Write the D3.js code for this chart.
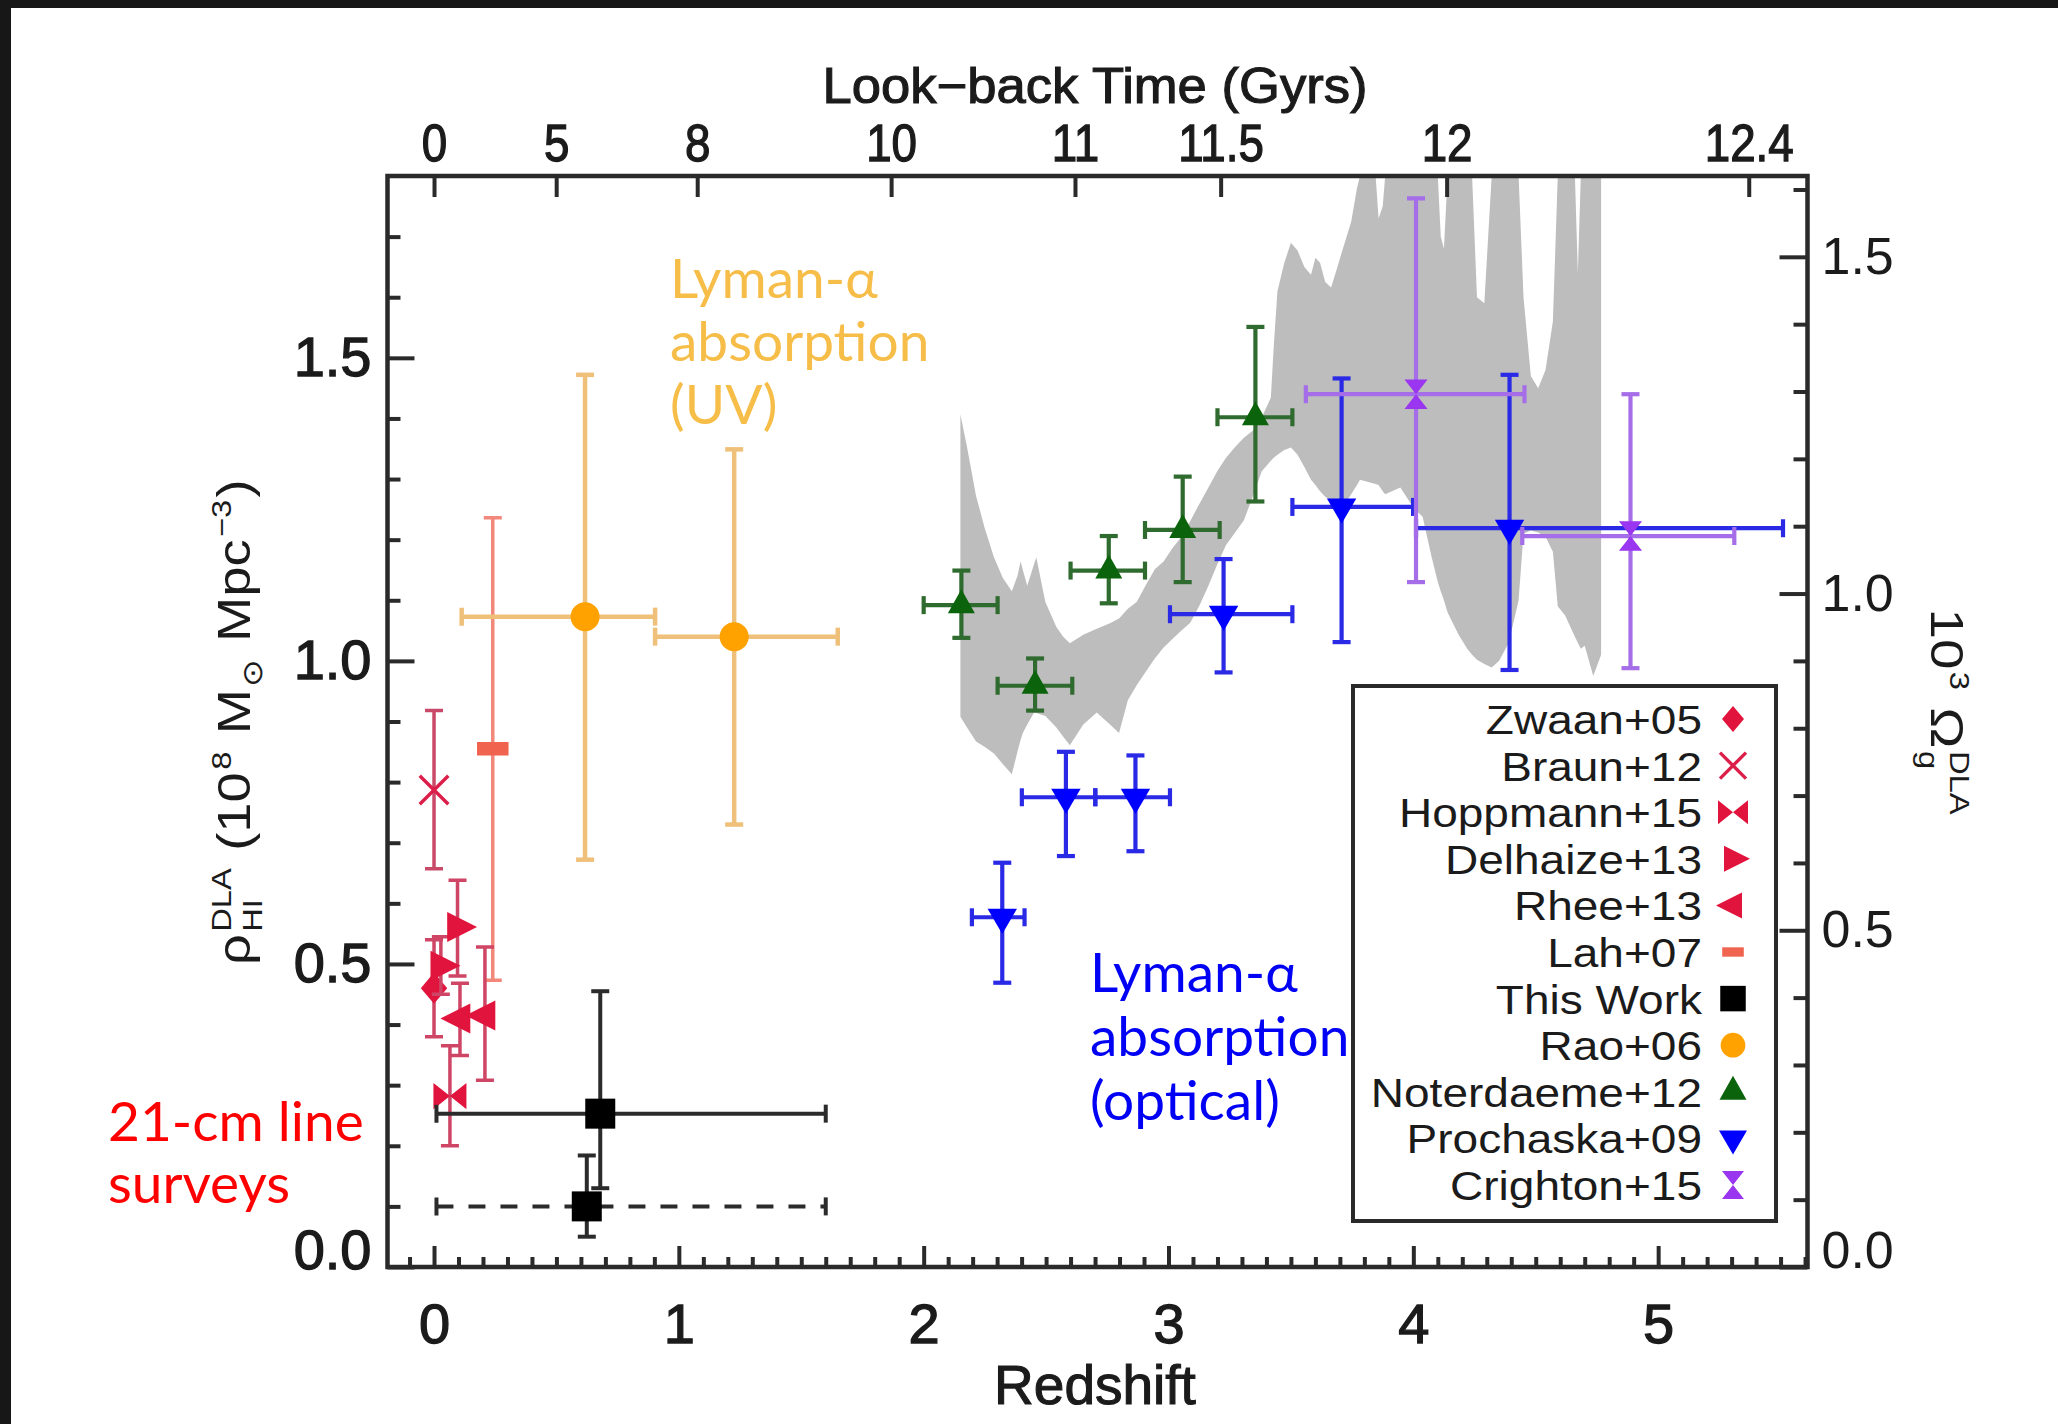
<!DOCTYPE html>
<html>
<head>
<meta charset="utf-8">
<script src="https://cdn.jsdelivr.net/npm/d3@7"></script>
<style>
  html, body { margin: 0; padding: 0; background: #fff; }
  svg { display: block; }
</style>
</head>
<body>
<svg id="chart" width="2058" height="1424"></svg>
<script>
// ---- Data: each row is [z, rho, rhoLow, rhoHigh, zLow, zHigh] (rho in 1e8 Msun Mpc^-3) ----
const zwaan05      = [[0.000, 0.460, 0.380, 0.540, null, null]];
const braun12      = [[0.000, 0.787, 0.657, 0.918, null, null]];
const hoppmann15   = [[0.065, 0.282, 0.200, 0.365, null, null]];
const delhaize13   = [[0.028, 0.497, 0.450, 0.545, null, null],
                      [0.096, 0.561, 0.480, 0.638, null, null]];
const rhee13       = [[0.106, 0.410, 0.349, 0.468, null, null],
                      [0.208, 0.415, 0.308, 0.528, null, null]];
const lah07        = [[0.240, 0.855, 0.473, 1.236, null, null]];
const thisWorkA    = [[0.679, 0.253, 0.130, 0.455, 0.010, 1.600]];
const thisWorkB    = [[0.624, 0.100, 0.050, 0.184, 0.010, 1.600]];
const rao06        = [[0.617, 1.073, 0.672, 1.472, 0.113, 0.903],
                      [1.226, 1.040, 0.730, 1.349, 0.903, 1.649]];
const noterdaeme12 = [[2.154, 1.092, 1.038, 1.149, 2.000, 2.302],
                      [2.455, 0.959, 0.918, 1.004, 2.302, 2.607],
                      [2.756, 1.149, 1.095, 1.206, 2.600, 2.904],
                      [3.058, 1.216, 1.130, 1.304, 2.904, 3.209],
                      [3.355, 1.402, 1.263, 1.551, 3.200, 3.506]];
const prochaska09  = [[2.321, 0.577, 0.469, 0.667, 2.197, 2.412],
                      [2.581, 0.775, 0.678, 0.850, 2.401, 2.701],
                      [2.865, 0.775, 0.686, 0.844, 2.701, 3.006],
                      [3.225, 1.077, 0.981, 1.168, 3.006, 3.506],
                      [3.707, 1.254, 1.031, 1.466, 3.506, 3.999],
                      [4.393, 1.219, 0.985, 1.472, 4.011, 5.510]];
const crighton15   = [[4.011, 1.440, 1.130, 1.763, 3.561, 4.454],
                      [4.887, 1.206, 0.988, 1.440, 4.445, 5.311]];

// Continuous DLA measurement envelope: redshift grid with lower and upper rho bounds
const bandZ = [2.150, 2.177, 2.214, 2.250, 2.287, 2.323, 2.360, 2.383, 2.396, 2.405, 2.423, 2.451,
  2.460, 2.497, 2.542, 2.570, 2.597, 2.652, 2.707, 2.761, 2.798, 2.834, 2.870, 2.907, 2.944, 2.980,
  3.016, 3.053, 3.089, 3.126, 3.163, 3.199, 3.235, 3.272, 3.308, 3.345, 3.381, 3.418, 3.430, 3.445,
  3.473, 3.500, 3.527, 3.555, 3.582, 3.600, 3.619, 3.640, 3.664, 3.690, 3.710, 3.746, 3.770, 3.782,
  3.846, 3.858, 3.875, 3.885, 3.947, 4.002, 4.038, 4.075, 4.100, 4.112, 4.125, 4.140, 4.185, 4.220,
  4.240, 4.260, 4.290, 4.320, 4.350, 4.390, 4.430, 4.450, 4.480, 4.510, 4.540, 4.570, 4.590, 4.620,
  4.660, 4.672, 4.684, 4.700, 4.735, 4.767];
const bandHi = [1.407, 1.353, 1.272, 1.218, 1.171, 1.137, 1.115, 1.140, 1.164, 1.150, 1.124, 1.160,
  1.171, 1.097, 1.056, 1.040, 1.029, 1.043, 1.053, 1.062, 1.070, 1.086, 1.097, 1.125, 1.151, 1.164,
  1.186, 1.205, 1.231, 1.259, 1.286, 1.313, 1.335, 1.353, 1.368, 1.380, 1.402, 1.434, 1.520, 1.610,
  1.657, 1.690, 1.677, 1.650, 1.637, 1.665, 1.657, 1.625, 1.616, 1.650, 1.677, 1.724, 1.780, 1.850,
  1.850, 1.730, 1.750, 1.850, 1.850, 1.850, 1.850, 1.850, 1.850, 1.700, 1.680, 1.850, 1.850, 1.850,
  1.850, 1.600, 1.590, 1.850, 1.850, 1.850, 1.850, 1.600, 1.470, 1.450, 1.480, 1.560, 1.850, 1.850,
  1.850, 1.640, 1.850, 1.850, 1.850, 1.850];
const bandLo = [0.908, 0.890, 0.867, 0.858, 0.847, 0.830, 0.813, 0.850, 0.870, 0.881, 0.895, 0.915,
  0.914, 0.909, 0.890, 0.875, 0.861, 0.895, 0.915, 0.895, 0.881, 0.935, 0.960, 0.982, 1.004, 1.022,
  1.036, 1.050, 1.063, 1.091, 1.124, 1.159, 1.191, 1.212, 1.232, 1.272, 1.313, 1.330, 1.335, 1.340,
  1.348, 1.352, 1.340, 1.320, 1.299, 1.290, 1.280, 1.271, 1.265, 1.256, 1.252, 1.275, 1.290, 1.299,
  1.292, 1.290, 1.280, 1.275, 1.286, 1.252, 1.238, 1.171, 1.130, 1.115, 1.100, 1.080, 1.043, 1.020,
  1.010, 1.002, 0.995, 0.989, 1.000, 1.030, 1.100, 1.210, 1.215, 1.212, 1.205, 1.180, 1.090, 1.075,
  1.040, 1.030, 1.020, 1.025, 0.975, 1.010];

// ---- Axes ticks and labels ----
const xMajorTicks = [0, 1, 2, 3, 4, 5];
const yLeftTicks = [0.0, 0.5, 1.0, 1.5];
const yRightTicks = [0.0, 0.5, 1.0, 1.5];
const lookbackLabels = ["0", "5", "8", "10", "11", "11.5", "12", "12.4"];
const lookbackZ = [0, 0.499, 1.075, 1.867, 2.618, 3.213, 4.136, 5.370];
const omegaPerRho = 0.9;   // 10^3 Omega_g per 1e8 Msun Mpc^-3

const legendLabels = ["Zwaan+05", "Braun+12", "Hoppmann+15", "Delhaize+13", "Rhee+13", "Lah+07",
                      "This Work", "Rao+06", "Noterdaeme+12", "Prochaska+09", "Crighton+15"];

// ---- Styling ----
const FONT = "'Liberation Sans', Arial, Helvetica, sans-serif";
const NOTE_FONT = "Lato, 'Open Sans', sans-serif";
const AXIS = "#2a2a2a";
const TXT = "#1b1b1b";
const NB = "\u00A0";

const svg = d3.select("#chart");
svg.append("rect").attr("width", 2058).attr("height", 1424).attr("fill", "#fff");
svg.append("rect").attr("x", 0).attr("y", 0).attr("width", 2058).attr("height", 8).attr("fill", "#171717");
svg.append("rect").attr("x", 0).attr("y", 0).attr("width", 11).attr("height", 1424).attr("fill", "#171717");

const P = { left: 387.5, right: 1807.5, top: 176, bottom: 1267 };
const x = d3.scaleLinear().domain([-0.19, 5.61]).range([P.left, P.right]);
const y = d3.scaleLinear().domain([0, 1.8]).range([P.bottom, P.top]);
const yR = d3.scaleLinear().domain([0, 1.8 * omegaPerRho]).range([P.bottom, P.top]);
const yMax = y.domain()[1];

svg.append("clipPath").attr("id", "plotclip").append("rect")
  .attr("x", P.left).attr("y", P.top).attr("width", P.right - P.left).attr("height", P.bottom - P.top);

// ---- Grey envelope (upper bound held at the frame where it runs off the top) ----
const bandArea = d3.area()
  .x((d, i) => x(bandZ[i]))
  .y0((d, i) => y(bandLo[i]))
  .y1((d, i) => y(Math.min(bandHi[i], yMax)));
svg.append("path")
  .attr("d", bandArea(bandZ))
  .attr("fill", "#bdbdbd");

// ---- Marker shapes ----
const shapes = {
  diamond: s => `M0,${-13*s}L${11*s},0L0,${13*s}L${-11*s},0Z`,
  cross: s => `M${-13*s},${-13*s}L${13*s},${13*s}M${-13*s},${13*s}L${13*s},${-13*s}`,
  bowtie: s => `M${-15*s},${-12*s}L0,0L${-15*s},${12*s}ZM${15*s},${-12*s}L0,0L${15*s},${12*s}Z`,
  right: s => `M${-9*s},${-13*s}L${17*s},0L${-9*s},${13*s}Z`,
  left: s => `M${9*s},${-13*s}L${-17*s},0L${9*s},${13*s}Z`,
  bar: s => `M${-15*s},${-6.5*s}H${15*s}V${6.5*s}H${-15*s}Z`,
  square: s => `M${-15*s},${-15*s}H${15*s}V${15*s}H${-15*s}Z`,
  circle: s => d3.symbol(d3.symbolCircle, Math.PI * (14.5*s) * (14.5*s))(),
  up: s => `M0,${-16*s}L${13.5*s},${8*s}L${-13.5*s},${8*s}Z`,
  down: s => `M0,${16*s}L${14*s},${-8*s}L${-14*s},${-8*s}Z`,
  hourglass: s => `M${-11*s},${-14*s}L${11*s},${-14*s}L0,0ZM${-11*s},${14*s}L${11*s},${14*s}L0,0Z`
};

function drawMarker(g, shape, color, cx, cy, s) {
  const p = g.append("path").attr("d", shapes[shape](s)).attr("transform", `translate(${cx},${cy})`);
  if (shape === "cross") p.attr("fill", "none").attr("stroke", color).attr("stroke-width", 3.4);
  else p.attr("fill", color);
}

function drawErrors(g, rows, color, width, cap, dashH) {
  rows.forEach(r => {
    const [z, v, lo, hi, zl, zh] = r;
    const cx = x(z), cy = y(v);
    g.append("line").attr("x1", cx).attr("x2", cx).attr("y1", y(lo)).attr("y2", y(hi))
      .attr("stroke", color).attr("stroke-width", width);
    [lo, hi].forEach(e => g.append("line").attr("x1", cx - cap).attr("x2", cx + cap)
      .attr("y1", y(e)).attr("y2", y(e)).attr("stroke", color).attr("stroke-width", width));
    if (zl !== null) {
      const h = g.append("line").attr("x1", x(zl)).attr("x2", x(zh)).attr("y1", cy).attr("y2", cy)
        .attr("stroke", color).attr("stroke-width", width);
      if (dashH) h.attr("stroke-dasharray", "17,15");
      [zl, zh].forEach(e => g.append("line").attr("x1", x(e)).attr("x2", x(e))
        .attr("y1", cy - cap).attr("y2", cy + cap).attr("stroke", color).attr("stroke-width", width));
    }
  });
}

const series = [
  { rows: lah07, shape: "bar", color: "#f0634e", err: "#f2877a", w: 3.5, s: 1.05 },
  { rows: braun12, shape: "cross", color: "#dc1f4a", err: "#c94a68", w: 3.5, s: 1.1 },
  { rows: zwaan05, shape: "diamond", color: "#e0143c", err: "#cf4566", w: 3.5, s: 1.2 },
  { rows: delhaize13, shape: "right", color: "#e0143c", err: "#cf4566", w: 3.5, s: 1.15 },
  { rows: rhee13, shape: "left", color: "#e0143c", err: "#cf4566", w: 3.5, s: 1.15 },
  { rows: hoppmann15, shape: "bowtie", color: "#e0143c", err: "#cf4566", w: 3.5, s: 1.1 },
  { rows: thisWorkA, shape: "square", color: "#000000", err: "#2b2b2b", w: 4, s: 1 },
  { rows: thisWorkB, shape: "square", color: "#000000", err: "#2b2b2b", w: 4, s: 1, dash: true },
  { rows: rao06, shape: "circle", color: "#ffa200", err: "#efc07a", w: 4.5, s: 1 },
  { rows: noterdaeme12, shape: "up", color: "#0b640b", err: "#2f6a2f", w: 4.2, s: 1 },
  { rows: prochaska09, shape: "down", color: "#0000ff", err: "#2929e6", w: 4.2, s: 1.05 },
  { rows: crighton15, shape: "hourglass", color: "#9a35f0", err: "#a56ee8", w: 4.2, s: 1.05 }
];

const marks = svg.append("g").attr("clip-path", "url(#plotclip)");
series.forEach(s => {
  const g = marks.append("g");
  drawErrors(g, s.rows, s.err, s.w, 9, s.dash);
  s.rows.forEach(r => drawMarker(g, s.shape, s.color, x(r[0]), y(r[1]), s.s));
});

// ---- Frame ----
svg.append("rect").attr("x", P.left).attr("y", P.top)
  .attr("width", P.right - P.left).attr("height", P.bottom - P.top)
  .attr("fill", "none").attr("stroke", AXIS).attr("stroke-width", 4.5);

function styleAxis(g, fs, heavy) {
  g.select(".domain").remove();
  g.selectAll(".tick line").attr("stroke", AXIS).attr("stroke-width", 4);
  g.selectAll(".tick text").attr("font-family", FONT).attr("font-size", fs).attr("fill", TXT);
  if (heavy) g.selectAll(".tick text").attr("stroke", TXT).attr("stroke-width", 1.3);
}

// bottom: redshift
const xMinor = d3.range(-1, 57).filter(i => i % 10 !== 0).map(i => i / 10);
svg.append("g").attr("transform", `translate(0,${P.bottom})`)
  .call(d3.axisBottom(x).tickValues(xMinor).tickSize(-10).tickFormat(""))
  .call(g => styleAxis(g, 10, false));
svg.append("g").attr("transform", `translate(0,${P.bottom})`)
  .call(d3.axisBottom(x).tickValues(xMajorTicks).tickSize(-21).tickPadding(36).tickFormat(d3.format("d")))
  .call(g => styleAxis(g, 56, true));

// left: rho
const yMinor = d3.range(1, 18).filter(i => i % 5 !== 0).map(i => i / 10);
svg.append("g").attr("transform", `translate(${P.left},0)`)
  .call(d3.axisLeft(y).tickValues(yMinor).tickSize(-13).tickFormat(""))
  .call(g => styleAxis(g, 10, false));
svg.append("g").attr("transform", `translate(${P.left},0)`)
  .call(d3.axisLeft(y).tickValues(yLeftTicks).tickSize(-27).tickPadding(16).tickFormat(d3.format(".1f")))
  .call(g => styleAxis(g, 56, true))
  .call(g => g.selectAll(".tick text").filter(d => d === 0).attr("y", -16));

// right: Omega
const yRMinor = d3.range(1, 17).filter(i => i % 5 !== 0).map(i => i / 10);
svg.append("g").attr("transform", `translate(${P.right},0)`)
  .call(d3.axisRight(yR).tickValues(yRMinor).tickSize(-14).tickFormat(""))
  .call(g => styleAxis(g, 10, false));
svg.append("g").attr("transform", `translate(${P.right},0)`)
  .call(d3.axisRight(yR).tickValues(yRightTicks).tickSize(-28).tickPadding(14).tickFormat(d3.format(".1f")))
  .call(g => styleAxis(g, 52, false))
  .call(g => g.selectAll(".tick text").filter(d => d === 0).attr("y", -16));

// top: look-back time
svg.append("g").attr("transform", `translate(0,${P.top})`)
  .call(d3.axisTop(x).tickValues(lookbackZ).tickSize(-21).tickPadding(15)
    .tickFormat((d, i) => lookbackLabels[i]))
  .call(g => styleAxis(g, 52, true))
  .call(g => g.selectAll(".tick text").attr("transform", "scale(0.88,1)"));

// ---- Axis titles ----
svg.append("text").attr("x", 1095).attr("y", 1404).attr("text-anchor", "middle")
  .attr("font-family", FONT).attr("font-size", 55).attr("fill", TXT)
  .attr("stroke", TXT).attr("stroke-width", 1.1).text("Redshift");
svg.append("text").attr("x", 1095).attr("y", 103).attr("text-anchor", "middle")
  .attr("font-family", FONT).attr("font-size", 50).attr("fill", TXT)
  .attr("stroke", TXT).attr("stroke-width", 1.1)
  .attr("textLength", 545).attr("lengthAdjust", "spacingAndGlyphs")
  .text("Look\u2212back Time (Gyrs)");

// One <text> with tspans; a part is plain text or a stacked {sub, sup} pair
function richText(textSel, parts, fs) {
  const small = fs * 0.6, up = -fs * 0.42, down = fs * 0.26;
  let level = 0, pendingDx = 0;
  const shift = target => { const d = target - level; level = target; return d; };
  parts.forEach(p => {
    if (p.t !== undefined) {
      textSel.append("tspan").attr("font-size", fs).attr("dx", pendingDx).attr("dy", shift(0)).text(p.t);
      pendingDx = 0;
    } else {
      let wSub = 0, wSup = 0;
      if (p.sub) {
        const ts = textSel.append("tspan").attr("font-size", small).attr("dx", pendingDx + 2)
          .attr("dy", shift(down)).text(p.sub);
        wSub = ts.node().getComputedTextLength();
        pendingDx = 0;
      }
      if (p.sup) {
        const ts = textSel.append("tspan").attr("font-size", small)
          .attr("dx", (p.sub ? -wSub : 2) + pendingDx).attr("dy", shift(up)).text(p.sup);
        wSup = ts.node().getComputedTextLength();
        pendingDx = 0;
      }
      pendingDx = (p.sub && p.sup ? Math.max(0, wSub - wSup) : 0) + 2;
    }
  });
}

function rotatedTitle(parts, fs, cxPos, cyPos, angle, targetLen) {
  const outer = svg.append("g").attr("transform", `translate(${cxPos},${cyPos}) rotate(${angle})`);
  const inner = outer.append("g");
  const t = inner.append("text").attr("font-family", FONT).attr("fill", TXT).attr("x", 0).attr("y", 0);
  richText(t, parts, fs);
  const bb = t.node().getBBox();
  const sx = targetLen / bb.width;
  inner.attr("transform", `scale(${sx},1) translate(${-(bb.x + bb.width / 2)},0)`);
}

rotatedTitle([{ t: "\u03C1" }, { sub: "HI", sup: "DLA" }, { t: NB + "(10" }, { sup: "8" }, { t: NB + "M" },
  { sub: "\u2299" }, { t: NB + "Mpc" }, { sup: "\u22123" }, { t: ")" }], 46, 250, 722, -90, 486);
rotatedTitle([{ t: "10" }, { sup: "3" }, { t: NB + "\u03A9" }, { sub: "g", sup: "DLA" }], 46, 1931, 712, 90, 207);

// ---- Legend ----
const legendSeries = [
  ["diamond", "#e0143c"], ["cross", "#dc1f4a"], ["bowtie", "#e0143c"], ["right", "#e0143c"],
  ["left", "#e0143c"], ["bar", "#f0634e"], ["square", "#000000"], ["circle", "#ffa200"],
  ["up", "#0b640b"], ["down", "#0000ff"], ["hourglass", "#9a35f0"]
];
const lg = svg.append("g");
lg.append("rect").attr("x", 1353).attr("y", 686).attr("width", 423).attr("height", 535)
  .attr("fill", "#fff").attr("stroke", AXIS).attr("stroke-width", 4);
const LEG_FS = 41.5, LEG_WIDE = 46 / LEG_FS;
legendLabels.forEach((lab, i) => {
  const cy = 719 + i * 46.6;
  const t = lg.append("text").attr("x", 1702).attr("y", cy).attr("dy", "0.36em").attr("text-anchor", "end")
    .attr("font-family", FONT).attr("font-size", LEG_FS).attr("fill", TXT).text(lab);
  t.attr("textLength", t.node().getComputedTextLength() * LEG_WIDE).attr("lengthAdjust", "spacingAndGlyphs");
  const [shape, color] = legendSeries[i];
  const sc = shape === "bar" ? 0.72 : (shape === "square" || shape === "circle" ? 0.85 : 1.0);
  drawMarker(lg, shape, color, 1733, cy, sc);
});

// ---- Annotations ----
function note(lines, x0, y0, step, color) {
  const t = svg.append("text").attr("font-family", NOTE_FONT).attr("font-size", 55).attr("fill", color);
  lines.forEach((l, i) => t.append("tspan").attr("x", x0).attr("y", y0 + i * step).text(l));
}
note(["Lyman-\u03B1", "absorption", "(UV)"], 670, 298, 63, "#f6bd48");
note(["Lyman-\u03B1", "absorption", "(optical)"], 1090, 992, 64, "#0000f5");
note(["21-cm line", "surveys"], 108, 1141, 62, "#ff0000");
</script>
</body>
</html>
